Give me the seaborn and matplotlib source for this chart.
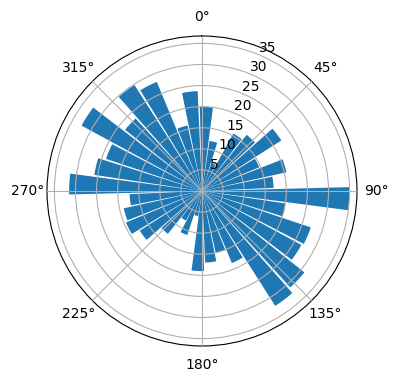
import numpy as np
import pandas as pd
import matplotlib
matplotlib.use("Agg")
import matplotlib.pyplot as plt
import seaborn as sns

# bar centre directions (degrees, clockwise from north) and lengths
angles_deg = [3 + 10 * k for k in range(36)]
radii = [20.0, 12.0, 7.0, 15.5, 17.0, 22.3, 14.7, 20.5, 17.0, 35.0,
         20.0, 27.2, 26.8, 31.0, 32.3, 18.5, 15.0, 17.0, 19.0, 6.0,
         11.0, 8.0, 13.0, 17.5, 19.5, 19.0, 17.2, 31.5, 25.8, 24.0,
         32.5, 23.3, 29.8, 28.0, 15.9, 23.7]

df = pd.DataFrame({"theta": np.deg2rad(angles_deg), "r": radii})

fig = plt.figure(figsize=(3.96, 3.80), dpi=100)
ax = fig.add_axes([0.1187, 0.0895, 0.7828, 0.8158], projection="polar")
ax.set_theta_zero_location("N")
ax.set_theta_direction(-1)

sns.barplot(data=df, x="theta", y="r", ax=ax, native_scale=True, orient="x",
            width=0.9, color="#1f77b4", saturation=1, errorbar=None,
            linewidth=0, edgecolor="none")

ax.set_xlabel("")
ax.set_ylabel("")
ax.set_xticks(np.deg2rad(np.arange(0, 360, 45)))
ax.set_xticklabels([f"{d}°" for d in range(0, 360, 45)])
ax.grid(True)
ax.set_axisbelow(False)

fig.savefig("out.png", dpi=100)
